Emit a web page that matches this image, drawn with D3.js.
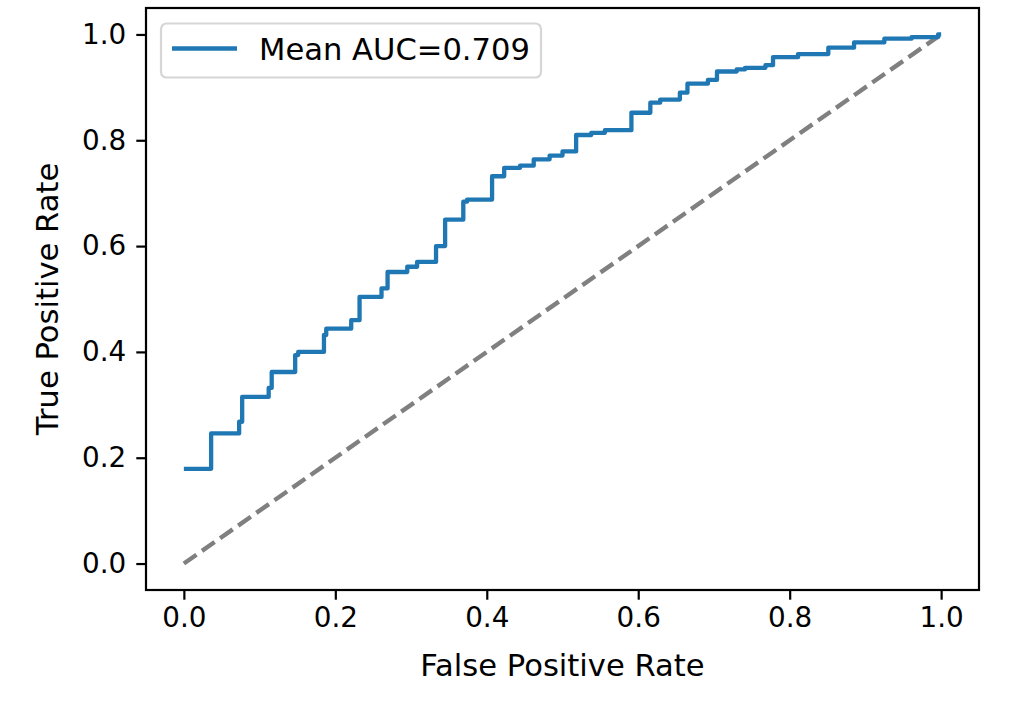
<!DOCTYPE html>
<html>
<head>
<meta charset="utf-8">
<script src="https://cdn.jsdelivr.net/npm/d3@7"></script>
<style>
  body { margin: 0; background: #fff; }
  text { font-family: "DejaVu Sans", sans-serif; }
</style>
</head>
<body>
<svg id="chart" width="1011" height="718"></svg>
<script>
// mean ROC curve (step points)
const fpr = [0, 0.036, 0.073, 0.077, 0.112, 0.116, 0.147, 0.151, 0.185, 0.188,
  0.221, 0.232, 0.261, 0.269, 0.295, 0.308, 0.333, 0.345, 0.369, 0.374,
  0.407, 0.423, 0.444, 0.462, 0.483, 0.500, 0.518, 0.538, 0.556, 0.591,
  0.616, 0.629, 0.655, 0.665, 0.692, 0.704, 0.730, 0.741, 0.768, 0.778,
  0.811, 0.851, 0.885, 0.925, 0.961, 0.996, 1.0];
const tpr = [0.179, 0.246, 0.268, 0.315, 0.332, 0.362, 0.394, 0.400, 0.432, 0.444,
  0.460, 0.504, 0.520, 0.551, 0.561, 0.570, 0.600, 0.650, 0.684, 0.688,
  0.732, 0.748, 0.752, 0.764, 0.771, 0.779, 0.810, 0.814, 0.819, 0.852,
  0.871, 0.877, 0.890, 0.907, 0.914, 0.930, 0.934, 0.937, 0.942, 0.957,
  0.963, 0.975, 0.985, 0.992, 0.995, 1.0, 1.0];
const chance = [[0, 0], [1, 1]];
const ticks = [0, 0.2, 0.4, 0.6, 0.8, 1.0];
const legendLabel = 'Mean AUC=0.709';

const tickFs = 27.8;   // 10pt at 200 dpi
const labelFs = 30.6;  // 11pt
const svg = d3.select('#chart');
const plotL = 146, plotR = 979, plotT = 8, plotB = 590;

const x = d3.scaleLinear().domain([-0.05, 1.05]).range([plotL, plotR]);
const y = d3.scaleLinear().domain([-0.05, 1.05]).range([plotB, plotT]);

// chance diagonal
svg.append('path')
  .datum(chance)
  .attr('d', d3.line().x((d) => x(d[0])).y((d) => y(d[1])))
  .attr('fill', 'none')
  .attr('stroke', '#808080')
  .attr('stroke-width', 4.4)
  .attr('stroke-dasharray', '15.4,6.7');

// ROC curve
const rocPts = fpr.map((f, i) => [f, tpr[i]]);
svg.append('path')
  .datum(rocPts)
  .attr('d', d3.line().x((d) => x(d[0])).y((d) => y(d[1])).curve(d3.curveStepAfter))
  .attr('fill', 'none')
  .attr('stroke', '#1f77b4')
  .attr('stroke-width', 4.3)
  .attr('stroke-linejoin', 'round');

// axes
const xAxis = svg.append('g')
  .attr('transform', `translate(0,${plotB})`)
  .call(d3.axisBottom(x).tickValues(ticks).tickFormat(d3.format('.1f')).tickSize(9.7).tickPadding(8));
const yAxis = svg.append('g')
  .attr('transform', `translate(${plotL},0)`)
  .call(d3.axisLeft(y).tickValues(ticks).tickFormat(d3.format('.1f')).tickSize(9.7).tickPadding(10));
[xAxis, yAxis].forEach((g) => {
  g.select('.domain').remove();
  g.selectAll('line').attr('stroke', '#000').attr('stroke-width', 2.2);
  g.selectAll('text')
    .attr('font-size', tickFs)
    .attr('fill', '#000')
    .style('font-family', '"DejaVu Sans", sans-serif');
});

// spines
svg.append('rect')
  .attr('x', plotL).attr('y', plotT)
  .attr('width', plotR - plotL).attr('height', plotB - plotT)
  .attr('fill', 'none')
  .attr('stroke', '#000')
  .attr('stroke-width', 2.2);

// axis labels
svg.append('text')
  .attr('x', (plotL + plotR) / 2)
  .attr('y', 676)
  .attr('text-anchor', 'middle')
  .attr('font-size', labelFs)
  .text('False Positive Rate');
svg.append('text')
  .attr('transform', `translate(58,${(plotT + plotB) / 2}) rotate(-90)`)
  .attr('text-anchor', 'middle')
  .attr('font-size', labelFs)
  .text('True Positive Rate');

// legend
const legend = svg.append('g');
legend.append('rect')
  .attr('x', 161).attr('y', 23.5)
  .attr('width', 380).attr('height', 54)
  .attr('rx', 5.5)
  .attr('fill', '#fff')
  .attr('fill-opacity', 0.8)
  .attr('stroke', '#d6d6d6')
  .attr('stroke-width', 2.2);
legend.append('line')
  .attr('x1', 172).attr('x2', 237)
  .attr('y1', 48.5).attr('y2', 48.5)
  .attr('stroke', '#1f77b4')
  .attr('stroke-width', 4.3);
legend.append('text')
  .attr('x', 259)
  .attr('y', 60)
  .attr('font-size', labelFs)
  .text(legendLabel);
</script>
</body>
</html>
